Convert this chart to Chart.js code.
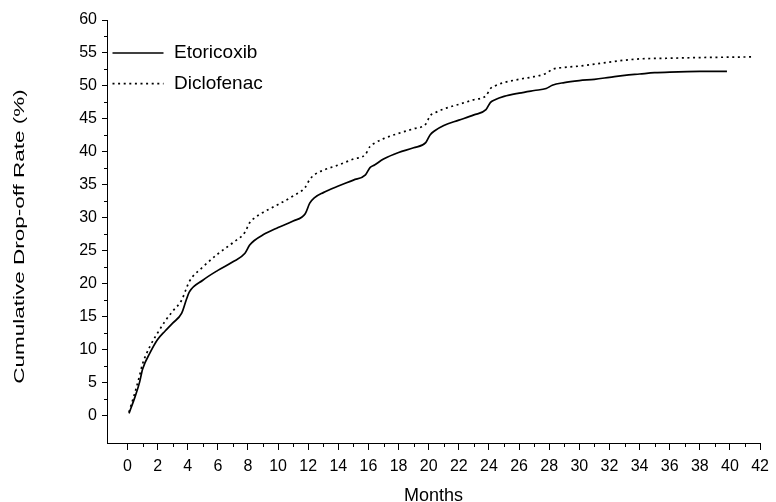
<!DOCTYPE html>
<html>
<head>
<meta charset="utf-8">
<script src="https://cdn.jsdelivr.net/npm/chart.js@4.4.1/dist/chart.umd.min.js"></script>
<style>
  html, body { margin: 0; padding: 0; background: #fff; }
  #wrap { width: 776px; height: 502px; }
</style>
</head>
<body>
<div id="wrap"><canvas id="dropoff"></canvas></div>
<script>
// cumulative drop-off
var etoMonths = [0.1, 0.5, 0.8, 1.0, 1.5, 2, 2.5, 3, 3.6, 3.9, 4.1, 5, 6, 7, 7.8, 8.1, 8.4, 9, 10, 11,
                 11.8, 12.1, 12.4, 13, 14, 15, 15.8, 16.1, 16.4, 17, 18, 19, 19.8, 20.1, 20.4, 21, 22, 23,
                 23.8, 24.1, 24.4, 25, 26, 27, 27.8, 28.2, 29, 30, 31, 32, 33, 34, 35, 36, 38, 39.8];
var etoRate = [0.3, 2.8, 5.0, 7.0, 9.5, 11.5, 12.8, 14.0, 15.5, 17.5, 18.7, 20.5, 22.0, 23.3, 24.6, 25.8, 26.5, 27.4, 28.5, 29.5,
               30.6, 32.2, 33.0, 33.8, 34.8, 35.7, 36.5, 37.6, 38.0, 38.9, 39.9, 40.6, 41.4, 42.6, 43.2, 44.0, 44.8, 45.6,
               46.4, 47.5, 47.9, 48.4, 48.9, 49.3, 49.6, 50.1, 50.5, 50.8, 51.0, 51.3, 51.6, 51.8, 52.0, 52.1, 52.2, 52.2];

var dicMonths = [0.1, 0.5, 0.8, 1.0, 1.5, 2, 2.5, 3, 3.6, 3.9, 4.1, 5, 6, 7, 7.8, 8.1, 8.4, 9, 10, 11,
                 11.8, 12.1, 12.4, 13, 14, 15, 15.8, 16.1, 16.4, 17, 18, 19, 19.8, 20.1, 20.4, 21, 22, 23,
                 23.8, 24.1, 24.4, 25, 26, 27, 27.8, 28.2, 29, 30, 31, 32, 33, 34, 36, 38, 41.5];
var dicRate = [0.5, 3.5, 6.0, 7.8, 10.5, 12.5, 14.3, 15.8, 17.5, 19.2, 20.3, 22.5, 24.5, 26.2, 27.8, 29.2, 29.9, 30.8, 32.0, 33.3,
               34.6, 35.8, 36.5, 37.2, 38.0, 38.9, 39.6, 40.8, 41.3, 42.0, 42.8, 43.5, 44.2, 45.5, 45.9, 46.5, 47.2, 47.9,
               48.5, 49.6, 50.0, 50.5, 51.0, 51.4, 51.9, 52.5, 52.8, 53.0, 53.3, 53.6, 53.9, 54.1, 54.2, 54.3, 54.4];

var xTicks = [0, 2, 4, 6, 8, 10, 12, 14, 16, 18, 20, 22, 24, 26, 28, 30, 32, 34, 36, 38, 40, 42];
var xMinor = [1, 3, 5, 7, 9, 11, 13, 15, 17, 19, 21, 23, 25, 27, 29, 31, 33, 35, 37, 39, 41];
var yTicks = [0, 5, 10, 15, 20, 25, 30, 35, 40, 45, 50, 55, 60];
var yMinor = [2.5, 7.5, 12.5, 17.5, 22.5, 27.5, 32.5, 37.5, 42.5, 47.5, 52.5, 57.5];

var yTitle = 'Cumulative Drop-off Rate (%)';

function toPoints(xs, ys) {
    return xs.map(function (m, i) { return { x: m, y: ys[i] }; });
}

var FONT = '"Liberation Sans", Arial, sans-serif';

// short unlabelled ticks between the numbered ones
var minorTicks = {
    id: 'minorTicks',
    afterDraw: function (chart) {
        var ctx = chart.ctx, x = chart.scales.x, y = chart.scales.y;
        ctx.save();
        ctx.strokeStyle = '#000';
        ctx.lineWidth = 1;
        ctx.beginPath();
        xMinor.forEach(function (v) {
            var px = Math.round(x.getPixelForValue(v)) + 0.5;
            ctx.moveTo(px, y.bottom);
            ctx.lineTo(px, y.bottom + 4);
        });
        yMinor.forEach(function (v) {
            var py = Math.round(y.getPixelForValue(v)) + 0.5;
            ctx.moveTo(x.left, py);
            ctx.lineTo(x.left - 3, py);
        });
        ctx.stroke();
        ctx.restore();
    }
};

// line-sample legend in the upper left of the plot, using each dataset's own stroke
var lineLegend = {
    id: 'lineLegend',
    afterDraw: function (chart) {
        var ctx = chart.ctx, area = chart.chartArea;
        ctx.save();
        ctx.font = '19px ' + FONT;
        ctx.textBaseline = 'middle';
        ctx.fillStyle = '#000';
        chart.data.datasets.forEach(function (ds, i) {
            var ly = area.top + 33 + i * 30.6;
            ctx.strokeStyle = ds.borderColor;
            ctx.lineWidth = ds.borderWidth;
            ctx.setLineDash(ds.borderDash || []);
            ctx.beginPath();
            ctx.moveTo(area.left + 5.5, ly);
            ctx.lineTo(area.left + 56.5, ly);
            ctx.stroke();
            ctx.fillText(ds.label, area.left + 67, ly);
        });
        ctx.restore();
    }
};

// rotated axis title, drawn with the long, narrow lettering of the original figure
var sideTitle = {
    id: 'sideTitle',
    afterDraw: function (chart) {
        var ctx = chart.ctx, area = chart.chartArea;
        ctx.save();
        ctx.translate(20, (area.top + area.bottom) / 2 + 5);
        ctx.rotate(-Math.PI / 2);
        ctx.scale(1.5, 1);
        ctx.font = '15px ' + FONT;
        ctx.textAlign = 'center';
        ctx.textBaseline = 'middle';
        ctx.fillStyle = '#000';
        ctx.fillText(yTitle, 0, 0);
        ctx.restore();
    }
};

new Chart(document.getElementById('dropoff'), {
    type: 'line',
    data: {
        datasets: [{
            label: 'Etoricoxib',
            data: toPoints(etoMonths, etoRate),
            borderColor: '#000',
            backgroundColor: 'transparent',
            borderWidth: 1.7,
            pointRadius: 0,
            cubicInterpolationMode: 'monotone'
        }, {
            label: 'Diclofenac',
            data: toPoints(dicMonths, dicRate),
            borderColor: '#000',
            backgroundColor: 'transparent',
            borderWidth: 1.7,
            borderDash: [2, 3.6],
            pointRadius: 0,
            cubicInterpolationMode: 'monotone'
        }]
    },
    options: {
        responsive: true,
        maintainAspectRatio: false,
        animation: false,
        layout: { padding: { left: 0, top: 20, right: 10, bottom: 0 } },
        plugins: {
            tooltip: { enabled: false },
            legend: { display: false }
        },
        scales: {
            x: {
                type: 'linear',
                min: -1.36,
                max: 42,
                afterBuildTicks: function (axis) {
                    axis.ticks = xTicks.map(function (v) { return { value: v }; });
                },
                afterFit: function (axis) { axis.height = 59; },
                grid: { drawOnChartArea: false, drawTicks: true, tickLength: 7, color: '#000' },
                border: { color: '#000', width: 1 },
                ticks: {
                    color: '#000',
                    padding: 7,
                    maxRotation: 0,
                    autoSkip: false,
                    font: { family: FONT, size: 16 }
                },
                title: {
                    display: true,
                    text: 'Months',
                    color: '#000',
                    padding: { top: 0, bottom: -3 },
                    font: { family: FONT, size: 18, lineHeight: 1 }
                }
            },
            y: {
                min: -4.2,
                max: 60,
                afterBuildTicks: function (axis) {
                    axis.ticks = yTicks.map(function (v) { return { value: v }; });
                },
                afterFit: function (axis) { axis.width = 107; },
                grid: { drawOnChartArea: false, drawTicks: true, tickLength: 5, color: '#000' },
                border: { color: '#000', width: 1 },
                ticks: {
                    color: '#000',
                    padding: 5,
                    font: { family: FONT, size: 16 }
                },
                title: { display: false }
            }
        }
    },
    plugins: [minorTicks, lineLegend, sideTitle]
});
</script>
</body>
</html>
